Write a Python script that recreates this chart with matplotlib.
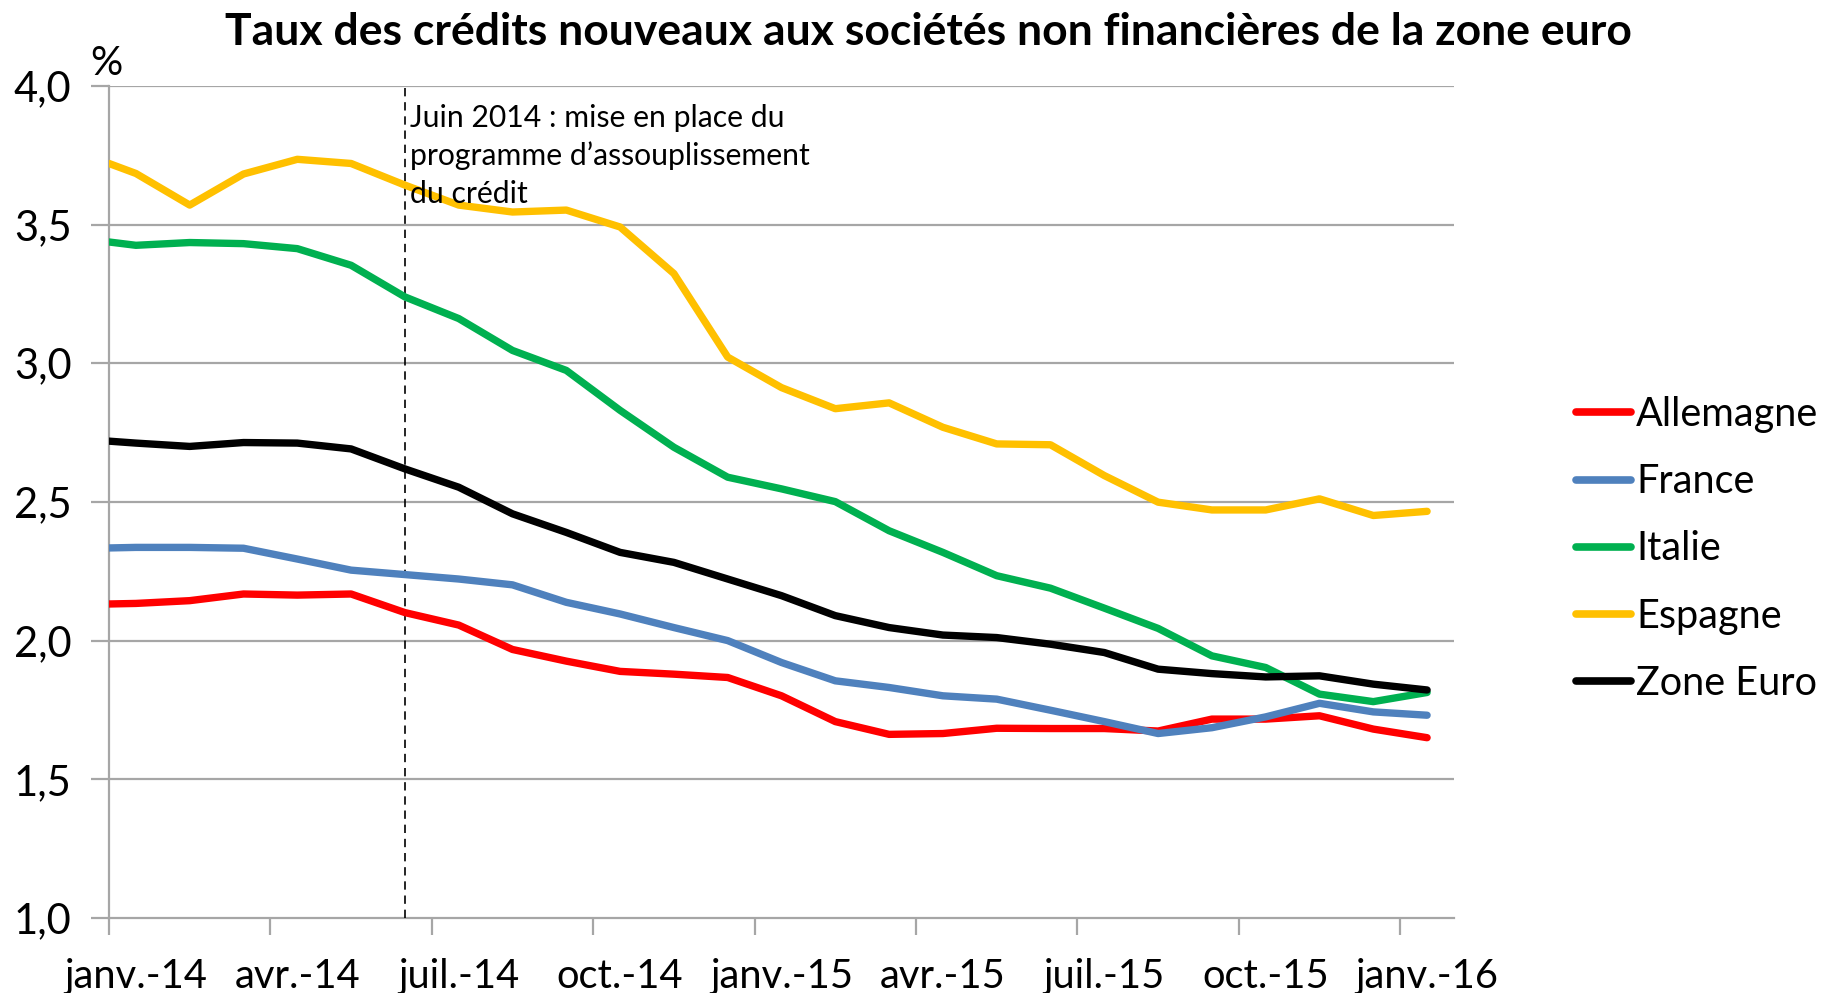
import matplotlib
matplotlib.use('Agg')
import matplotlib.pyplot as plt
import pandas as pd
import numpy as np

# ---------------- data ----------------
# monthly observations (plotted at mid-month) plus an opening point at the start of Jan 2014
months = pd.period_range('2014-01', '2016-01', freq='M')
base_month = pd.Period('2014-01', freq='M')

allemagne = [2.132, 2.134, 2.144, 2.168, 2.164, 2.168, 2.101, 2.056, 1.968, 1.926, 1.889, 1.879, 1.867,
             1.801, 1.708, 1.662, 1.665, 1.684, 1.683, 1.683, 1.674, 1.717, 1.717, 1.729, 1.681, 1.650]
france = [2.334, 2.336, 2.336, 2.333, 2.294, 2.254, 2.238, 2.222, 2.201, 2.138, 2.096, 2.047, 2.000,
          1.921, 1.855, 1.831, 1.801, 1.789, 1.749, 1.708, 1.665, 1.686, 1.725, 1.774, 1.743, 1.731]
italie = [3.437, 3.425, 3.435, 3.431, 3.413, 3.353, 3.239, 3.161, 3.046, 2.974, 2.830, 2.697, 2.589,
          2.547, 2.501, 2.396, 2.318, 2.234, 2.189, 2.117, 2.044, 1.945, 1.903, 1.807, 1.780, 1.813]
espagne = [3.720, 3.684, 3.570, 3.682, 3.735, 3.720, 3.642, 3.570, 3.545, 3.552, 3.491, 3.323, 3.022,
           2.912, 2.836, 2.857, 2.769, 2.709, 2.706, 2.595, 2.499, 2.471, 2.471, 2.511, 2.451, 2.466]
zone_euro = [2.719, 2.712, 2.700, 2.714, 2.712, 2.691, 2.619, 2.553, 2.457, 2.390, 2.318, 2.282, 2.222,
             2.162, 2.090, 2.047, 2.020, 2.011, 1.987, 1.957, 1.897, 1.881, 1.869, 1.873, 1.843, 1.822]

series_names = ['Allemagne', 'France', 'Italie', 'Espagne', 'Zone Euro']
series_values = [allemagne, france, italie, espagne, zone_euro]
series_colors = ['#FF0000', '#4F81BD', '#00B050', '#FFC000', '#000000']

xtick_months = pd.period_range('2014-01', '2016-01', freq='Q').asfreq('M', how='start')
xtick_labels = ['janv.-14', 'avr.-14', 'juil.-14', 'oct.-14', 'janv.-15',
                'avr.-15', 'juil.-15', 'oct.-15', 'janv.-16']
ytick_values = [1.0, 1.5, 2.0, 2.5, 3.0, 3.5, 4.0]
ytick_labels = ['1,0', '1,5', '2,0', '2,5', '3,0', '3,5', '4,0']

event_month = pd.Period('2014-06', freq='M')
event_text = ['Juin 2014 : mise en place du', 'programme d\u2019assouplissement', 'du crédit']
title = 'Taux des crédits nouveaux aux sociétés non financières de la zone euro'


def month_pos(periods):
    return np.array([(p - base_month).n for p in periods], dtype=float)


x_obs = np.concatenate([[0.0], month_pos(months) + 0.5])
x_ticks = month_pos(xtick_months)
x_event = month_pos([event_month])[0] + 0.5
x_end = month_pos([months[-1]])[0] + 1.0

# ---------------- figure ----------------
FONT = 'Lato'
plt.rcParams['font.family'] = [FONT, 'DejaVu Sans']
W, H = 1824, 993
fig = plt.figure(figsize=(W / 100, H / 100), dpi=100)
L, R, T, B = 109, 1454, 85.8, 918
ax = fig.add_axes([L / W, 1 - B / H, (R - L) / W, (B - T) / H])

grid_c = '#A6A6A6'
for yv in ytick_values[1:]:
    ax.axhline(yv, color=grid_c, lw=1.6, zorder=1)

handles = []
for name, vals, col in zip(series_names, series_values, series_colors):
    ln, = ax.plot(x_obs, vals, color=col, lw=5.3, label=name, zorder=3,
                  solid_capstyle='round', solid_joinstyle='round')
    handles.append(ln)

ax.axvline(x_event, color='black', lw=1.2, ls=(0, (5, 3.5)), zorder=2)

ax.set_ylim(1.0, 4.0)
ax.set_xlim(0, x_end)

ax.set_yticks(ytick_values)
ax.set_yticklabels(ytick_labels)
ax.set_xticks(x_ticks)
ax.set_xticklabels([])
ax.set_xticks(x_ticks + 0.5, minor=True)
ax.set_xticklabels(xtick_labels, minor=True)

ax.tick_params(axis='x', which='major', length=12, width=1.6, color=grid_c, direction='out')
ax.tick_params(axis='x', which='minor', length=0, pad=28.5, labelsize=28.7)
ax.tick_params(axis='y', which='major', length=13, width=1.6, color=grid_c, direction='out',
               pad=14, labelsize=30)

for s in ['top', 'right']:
    ax.spines[s].set_visible(False)
for s in ['left', 'bottom']:
    ax.spines[s].set_color(grid_c)
    ax.spines[s].set_linewidth(1.6)
    ax.spines[s].set_zorder(0.5)

# title and texts
fig.text(928 / W, 1 - 45 / H, title, ha='center', va='baseline',
         fontsize=32, fontweight='bold')
fig.text(106 / W, 1 - 75 / H, '%', ha='center', va='baseline', fontsize=29)
for line, base in zip(event_text, [127, 165, 203]):
    fig.text(410 / W, 1 - base / H, line, ha='left', va='baseline', fontsize=21.7)

leg = fig.legend(handles=handles, labels=series_names, loc='center left',
                 bbox_to_anchor=(1576 / W, 1 - 549 / H), frameon=False, fontsize=28.5,
                 handlelength=1.4, handletextpad=0.12, labelspacing=0.76,
                 borderpad=0, borderaxespad=0)
for h in leg.legend_handles:
    h.set_linewidth(5.5)
    h.set_solid_capstyle('round')

fig.savefig('out.png', dpi=100)
